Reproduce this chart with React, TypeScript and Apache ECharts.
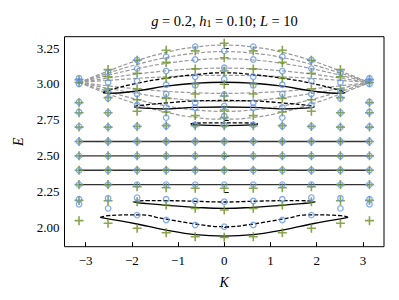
import React, { useEffect, useRef } from "react";
import * as echarts from "echarts";

// Momenta K = 2*pi*k/L (non-negative half; mirrored for K < 0)
const K_POS = [0, 0.6283, 1.2566, 1.885, 2.5133, 3.1416];

// Blue open circles: energies at each K in K_POS
const CIRCLE_E: number[][] = [
  [3.23, 3.113, 3.033, 2.928, 2.847, 2.777, 2.713, 2.6, 2.5, 2.4, 2.3, 2.181, 2.007],
  [3.26, 3.17, 3.05, 2.99, 2.87, 2.835, 2.715, 2.6, 2.5, 2.4, 2.3, 2.186, 2.019],
  [3.19, 3.09, 2.995, 2.93, 2.837, 2.766, 2.708, 2.6, 2.5, 2.4, 2.3, 2.198, 2.054],
  [3.167, 3.107, 3.02, 2.93, 2.855, 2.705, 2.6, 2.5, 2.4, 2.3, 2.209, 2.088],
  [3.08, 3.01, 2.95, 2.9, 2.8, 2.7, 2.6, 2.5, 2.4, 2.3, 2.205, 2.135],
  [3.0, 3.02, 3.04, 2.875, 2.805, 2.703, 2.6, 2.5, 2.4, 2.3, 2.198, 2.163],
];

// Green plus markers: energies at each K in K_POS
const PLUS_E: number[][] = [
  [3.283, 3.183, 3.09, 2.998, 2.916, 2.819, 2.766, 2.71, 2.6, 2.5, 2.4, 2.275, 2.123, 1.933],
  [3.23, 3.105, 3.0, 2.93, 2.78, 2.71, 2.6, 2.5, 2.4, 2.275, 2.135, 1.937],
  [3.235, 3.15, 3.04, 2.9, 2.805, 2.71, 2.6, 2.5, 2.4, 2.278, 2.158, 1.965],
  [3.165, 3.075, 2.965, 2.89, 2.81, 2.705, 2.6, 2.5, 2.4, 2.285, 2.181, 1.996],
  [3.1, 3.05, 2.965, 2.905, 2.8, 2.7, 2.6, 2.5, 2.4, 2.3, 2.188, 2.031],
  [3.01, 3.03, 2.87, 2.8, 2.7, 2.6, 2.5, 2.4, 2.3, 2.19, 2.049],
];

// Gray dashed continuum curves, values at K_POS
const GRAY_CURVES: number[][] = [
  [3.27, 3.257, 3.22, 3.163, 3.09, 3.01],
  [3.225, 3.214, 3.184, 3.136, 3.076, 3.01],
  [3.175, 3.167, 3.143, 3.107, 3.061, 3.01],
  [3.11, 3.105, 3.091, 3.069, 3.041, 3.01],
  [3.06, 3.058, 3.05, 3.039, 3.025, 3.01],
  [2.935, 2.939, 2.949, 2.966, 2.987, 3.01],
  [2.88, 2.886, 2.905, 2.934, 2.97, 3.01],
  [2.81, 2.82, 2.848, 2.892, 2.948, 3.01],
  [2.755, 2.767, 2.804, 2.86, 2.931, 3.01],
];

// Bound-state curves (K >= 0 half), solid and dashed black
const B1_K = [0, 0.6283, 1.2566, 1.885, 2.5133, 2.62];
const B1_SOLID = [3.012, 3.005, 2.985, 2.952, 2.935, 2.94];
const B1_DASH = [3.078, 3.065, 3.04, 3.005, 2.955, 2.94];
const B2_K = [0, 0.6283, 1.2566, 1.885, 1.95];
const B2_SOLID = [2.84, 2.838, 2.826, 2.835, 2.842];
const B2_DASH = [2.885, 2.882, 2.868, 2.848, 2.842];
const B3_K = [0, 0.6283, 0.725];
const B3_SOLID = [2.71, 2.715, 2.722];
const B3_DASH = [2.73, 2.728, 2.722];
const B4_K = [0, 0.6283, 1.2566, 1.67, 1.885, 1.96];
const B4_SOLID = [2.135, 2.142, 2.156, 2.168, 2.175, 2.18];
const B4_DASH = [2.179, 2.184, 2.188, 2.188, 2.185, 2.18];
const B5_K = [0, 0.6283, 1.2566, 1.885, 2.5133, 2.68];
const B5_SOLID = [1.942, 1.952, 1.984, 2.026, 2.062, 2.072];
const B5_DASH = [2.007, 2.026, 2.06, 2.09, 2.084, 2.072];

// Flat bands
const FLAT_E = [2.3, 2.4, 2.5, 2.6];
const FLAT_K = [-3.1416, 3.1416];

const X_TICKS = [-3, -2, -1, 0, 1, 2, 3];
const Y_TICKS = [2.0, 2.25, 2.5, 2.75, 3.0, 3.25];

const SERIF = "'Liberation Serif', 'DejaVu Serif', serif";
const BLUE = "#6495ED";
const GREEN = "#6b8e23";
const PLUS_PATH = "path://M4.1,0H5.9V4.1H10V5.9H5.9V10H4.1V5.9H0V4.1H4.1Z";

function mirrorCurve(ks: number[], es: number[]): number[][] {
  const out: number[][] = [];
  for (let i = ks.length - 1; i >= 1; i--) out.push([-ks[i], es[i]]);
  for (let i = 0; i < ks.length; i++) out.push([ks[i], es[i]]);
  return out;
}

function markerData(table: number[][]): number[][] {
  const out: number[][] = [];
  table.forEach((es, i) => {
    es.forEach((e) => {
      out.push([K_POS[i], e]);
      if (i > 0) out.push([-K_POS[i], e]);
    });
  });
  return out;
}

const minusFmt = (v: number) => (v < 0 ? "\u2212" + Math.abs(v) : String(v));

export default function App() {
  const ref = useRef<HTMLDivElement>(null);
  useEffect(() => {
    if (!ref.current) return;
    const chart = echarts.init(ref.current, undefined, { renderer: "svg" });
    const series: any[] = [];
    GRAY_CURVES.forEach((c) => {
      series.push({
        type: "line",
        data: mirrorCurve(K_POS, c),
        smooth: 0.5,
        symbol: "none",
        lineStyle: { color: "#999999", width: 1.2, type: [4, 2] },
        z: 1,
      });
    });
    FLAT_E.forEach((e) => {
      series.push({
        type: "line",
        data: FLAT_K.map((k) => [k, e]),
        symbol: "none",
        lineStyle: { color: "#333333", width: 1.3 },
        z: 2,
      });
    });
    const bound: [number[], number[], boolean][] = [
      [B1_K, B1_SOLID, false], [B1_K, B1_DASH, true],
      [B2_K, B2_SOLID, false], [B2_K, B2_DASH, true],
      [B3_K, B3_SOLID, false], [B3_K, B3_DASH, true],
      [B4_K, B4_SOLID, false], [B4_K, B4_DASH, true],
      [B5_K, B5_SOLID, false], [B5_K, B5_DASH, true],
    ];
    bound.forEach(([ks, es, dashed]) => {
      series.push({
        type: "line",
        data: mirrorCurve(ks, es),
        smooth: 0.5,
        symbol: "none",
        lineStyle: { color: "#000000", width: 1.3, type: dashed ? [4, 2] : "solid" },
        z: 3,
      });
    });
    series.push({
      type: "scatter",
      data: markerData(PLUS_E),
      symbol: PLUS_PATH,
      symbolSize: 9,
      itemStyle: { color: GREEN },
      z: 4,
    });
    series.push({
      type: "scatter",
      data: markerData(CIRCLE_E),
      symbol: "circle",
      symbolSize: 5.5,
      itemStyle: { color: "rgba(0,0,0,0)", borderColor: BLUE, borderWidth: 1.3 },
      z: 5,
    });

    chart.setOption({
      animation: false,
      backgroundColor: "#ffffff",
      grid: {
        left: 64.5, right: 15, top: 36.7, bottom: 53.3,
        show: true, borderColor: "#000", borderWidth: 1, backgroundColor: "transparent",
      },
      xAxis: {
        type: "value", min: -3.456, max: 3.456,
        splitLine: { show: false },
        axisLine: { show: false },
        axisTick: { show: true, inside: true, length: 4.5, customValues: X_TICKS, lineStyle: { color: "#000", width: 1 } },
        axisLabel: { customValues: X_TICKS, formatter: minusFmt, color: "#000", fontFamily: SERIF, fontSize: 13, margin: 7 },
        name: "K", nameLocation: "middle", nameGap: 29,
        nameTextStyle: { fontFamily: SERIF, fontStyle: "italic", fontSize: 14, color: "#000" },
      },
      yAxis: {
        type: "value", min: 1.868, max: 3.329,
        splitLine: { show: false },
        axisLine: { show: false },
        axisTick: { show: true, inside: true, length: 4.5, customValues: Y_TICKS, lineStyle: { color: "#000", width: 1 } },
        axisLabel: { customValues: Y_TICKS, formatter: (v: number) => v.toFixed(2), color: "#000", fontFamily: SERIF, fontSize: 13, margin: 5 },
        name: "E", nameLocation: "middle", nameGap: 36,
        nameTextStyle: { fontFamily: SERIF, fontStyle: "italic", fontSize: 14, color: "#000" },
      },
      graphic: [
        {
          type: "text",
          x: 224.5,
          y: 19.5,
          style: {
            text: "{i|g}{n| = 0.2, }{i|h}{s|1}{n| = 0.10; }{i|L}{n| = 10}",
            align: "center",
            verticalAlign: "middle",
            rich: {
              i: { fontFamily: SERIF, fontStyle: "italic", fontSize: 14.5, fill: "#000", verticalAlign: "bottom", lineHeight: 18 },
              n: { fontFamily: SERIF, fontSize: 14.5, fill: "#000", verticalAlign: "bottom", lineHeight: 18 },
              s: { fontFamily: SERIF, fontSize: 10, fill: "#000", verticalAlign: "bottom", lineHeight: 14 },
            },
          },
        },
      ],
      series,
    });
    return () => chart.dispose();
  }, []);
  return (
    <div
      ref={ref}
      style={{ position: "fixed", left: 0, top: 0, width: 399, height: 300, background: "#fff" }}
    />
  );
}
